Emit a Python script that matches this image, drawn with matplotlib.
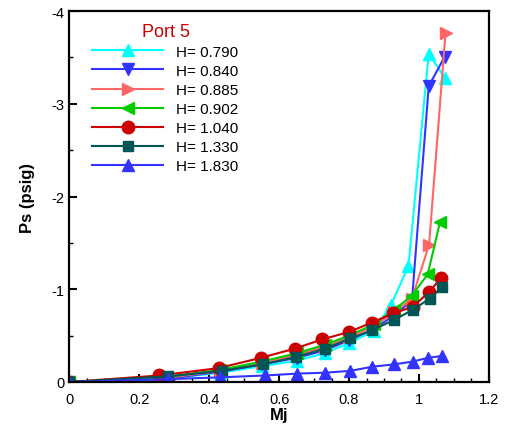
import numpy as np
import matplotlib
matplotlib.use('Agg')
import matplotlib.pyplot as plt
from matplotlib.ticker import MultipleLocator

plt.rcParams['font.family'] = ['Liberation Sans', 'DejaVu Sans']

# data (Mj vs Ps)
labels = ['H= 0.790', 'H= 0.840', 'H= 0.885', 'H= 0.902', 'H= 1.040', 'H= 1.330', 'H= 1.830']

mj_079 = [0, 0.27, 0.43, 0.55, 0.65, 0.73, 0.80, 0.87, 0.92, 0.97, 1.028, 1.074]
ps_079 = [0, -0.03, -0.10, -0.17, -0.23, -0.31, -0.42, -0.55, -0.83, -1.25, -3.54, -3.28]

mj_084 = [0, 0.27, 0.43, 0.55, 0.65, 0.73, 0.80, 0.87, 0.93, 0.98, 1.028, 1.074]
ps_084 = [0, -0.03, -0.11, -0.19, -0.26, -0.34, -0.45, -0.57, -0.72, -0.88, -3.19, -3.51]

mj_0885 = [0, 0.27, 0.43, 0.55, 0.65, 0.73, 0.80, 0.87, 0.93, 0.98, 1.029, 1.076]
ps_0885 = [0, -0.04, -0.12, -0.21, -0.29, -0.38, -0.48, -0.60, -0.75, -0.90, -1.48, -3.76]

mj_0902 = [0, 0.27, 0.43, 0.55, 0.65, 0.73, 0.80, 0.87, 0.93, 0.979, 1.025, 1.06]
ps_0902 = [0, -0.05, -0.13, -0.22, -0.31, -0.40, -0.50, -0.62, -0.78, -0.93, -1.16, -1.72]

mj_104 = [0, 0.257, 0.427, 0.547, 0.645, 0.724, 0.800, 0.865, 0.926, 0.982, 1.029, 1.063]
ps_104 = [0, -0.07, -0.15, -0.26, -0.36, -0.46, -0.54, -0.64, -0.74, -0.81, -0.97, -1.12]

mj_133 = [0, 0.281, 0.435, 0.553, 0.648, 0.731, 0.804, 0.867, 0.929, 0.983, 1.031, 1.065]
ps_133 = [0, -0.06, -0.12, -0.19, -0.27, -0.36, -0.47, -0.56, -0.67, -0.78, -0.90, -1.02]

mj_183 = [0, 0.281, 0.430, 0.559, 0.650, 0.731, 0.804, 0.867, 0.929, 0.982, 1.025, 1.065]
ps_183 = [0, -0.03, -0.05, -0.07, -0.09, -0.10, -0.12, -0.165, -0.19, -0.22, -0.26, -0.28]

x_ticks = [0, 0.2, 0.4, 0.6, 0.8, 1.0, 1.2]
x_ticklabels = ['0', '0.2', '0.4', '0.6', '0.8', '1', '1.2']
y_ticks = [0, -1, -2, -3, -4]
y_ticklabels = ['0', '-1', '-2', '-3', '-4']

series = [(mj_079, ps_079), (mj_084, ps_084), (mj_0885, ps_0885), (mj_0902, ps_0902),
          (mj_104, ps_104), (mj_133, ps_133), (mj_183, ps_183)]
colors = ['#00ffff', '#3333ff', '#ff6666', '#00cc00', '#cc0000', '#005555', '#3333ff']
markers = ['^', 'v', '>', '<', 'o', 's', '^']
msizes = [8, 8, 8, 8, 9, 7, 8]

fig = plt.figure(figsize=(5.05, 4.31), dpi=100)
ax = fig.add_axes([0.1376, 0.1114, 0.8304, 0.8606])

for (x, y), lab, c, m, ms in zip(series, labels, colors, markers, msizes):
    ax.plot(x, y, color=c, marker=m, markersize=ms, markeredgecolor=c,
            linewidth=1.5, label=lab)

ax.set_xticks(x_ticks)
ax.set_xticklabels(x_ticklabels)
ax.set_yticks(y_ticks)
ax.set_yticklabels(y_ticklabels)
ax.xaxis.set_minor_locator(MultipleLocator(0.05))
ax.yaxis.set_minor_locator(MultipleLocator(0.5))
ax.set_xlim(0, 1.2)
ax.set_ylim(0, -4)
ax.tick_params(which='both', direction='in', top=False, right=False, labelsize=10.5)
ax.tick_params(which='major', length=6, width=1.5)
ax.tick_params(which='minor', length=3, width=1)
ax.tick_params(axis='x', which='major', pad=7)
for s in ax.spines.values():
    s.set_linewidth(1.6)

ax.set_xlabel('Mj', fontsize=12, fontweight='bold', labelpad=1)
ax.set_ylabel('Ps (psig)', fontsize=12, fontweight='bold', labelpad=12)

leg = ax.legend(loc='upper left', bbox_to_anchor=(0.04, 0.985), frameon=False,
                title='Port 5', fontsize=11, handlelength=4.6, labelspacing=0.33,
                handletextpad=0.9, borderaxespad=0)
leg.get_title().set_color('#cc0000')
leg.get_title().set_fontsize(13)

plt.savefig('out.png', dpi=100)
